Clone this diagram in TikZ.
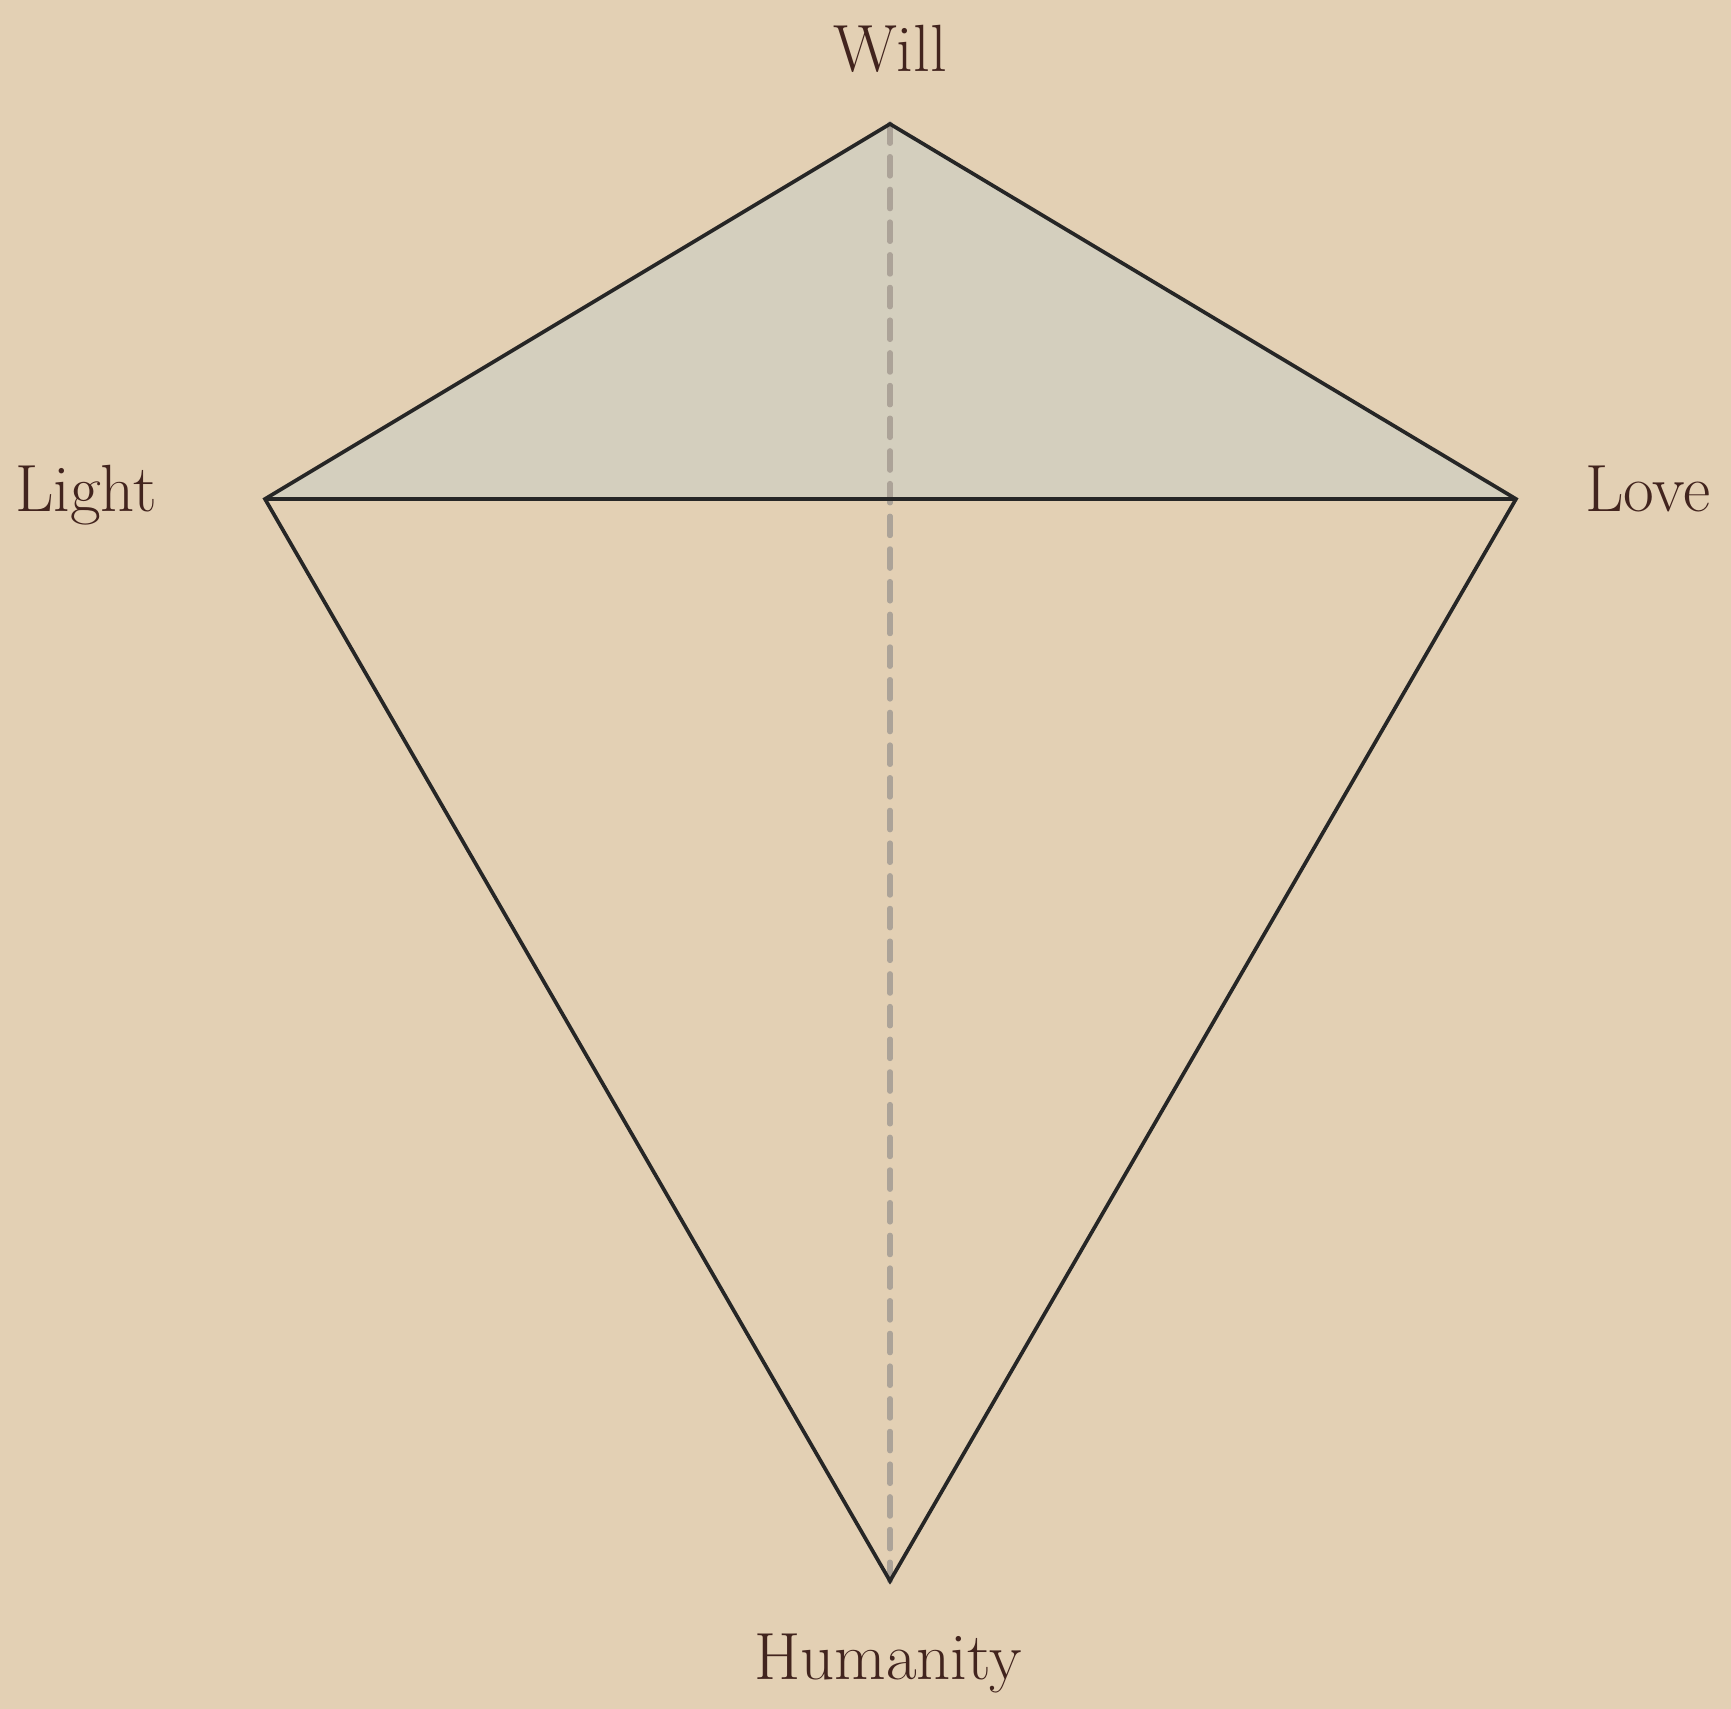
\documentclass[tikz,border=0pt]{standalone}
\usepackage{xcolor}
\usepackage{tikz}
\usetikzlibrary{positioning}
\definecolor{paper}{RGB}{227,208,180}
\definecolor{inkbrown}{RGB}{66,36,30}
\definecolor{kitefill}{RGB}{212,207,190}
\definecolor{axisgray}{RGB}{172,163,152}
\tikzset{
	vlabel/.style={text=inkbrown, font=\fontsize{19}{22}\selectfont, anchor=base},
	kiteedge/.style={draw=black!85, line width=1.05pt, line join=miter},
	axisline/.style={draw=axisgray, line width=1.5pt, dash pattern=on 5.5pt off 3.8pt, line cap=round},
}
\begin{document}
\begin{tikzpicture}
				\fill[paper] (0,0) rectangle (17.31,17.09);
				\useasboundingbox (0,0) rectangle (17.31,17.09);
				\coordinate (will) at (8.90,15.85);
				\coordinate (light) at (2.65,12.10);
				\coordinate (love) at (15.16,12.10);
				\coordinate (hum) at (8.90,1.28);
				\fill[kitefill] (light) -- (will) -- (love) -- cycle;
				\draw[axisline] (will) -- (hum);
				\draw[kiteedge] (light) -- (will) -- (love) -- (hum) -- cycle;
				\draw[kiteedge] (light) -- (love);
				\node[vlabel] (willlbl) at (8.90,16.37) {Will};
				\node[vlabel] (lightlbl) at (0.86,11.97) {Light};
				\node[vlabel] (lovelbl) at (16.48,11.97) {Love};
				\node[vlabel] (humlbl) at (8.88,0.29) {Humanity};
			\end{tikzpicture}
\end{document}
